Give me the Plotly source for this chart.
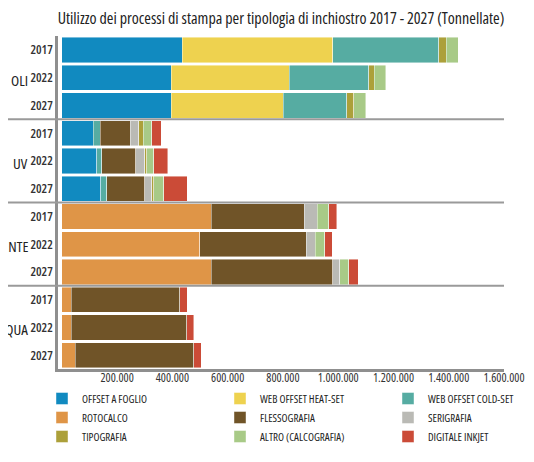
import plotly.graph_objects as go

# ---------------- data (tonnes) ----------------
groups = ["OLI", "UV", "SOLVENTE", "ACQUA"]
years = ["2017", "2022", "2027"]

# order: OLI 2017,2022,2027 | UV ... | SOLVENTE ... | ACQUA ...
offset_foglio   = [435000, 395000, 395000, 114000, 126000, 141000, 0, 0, 0, 0, 0, 0]
web_heat_set    = [545000, 428000, 407000, 0, 0, 0, 0, 0, 0, 0, 0, 0]
web_cold_set    = [383000, 288000, 229000, 24000, 18000, 21000, 0, 0, 0, 0, 0, 0]
rotocalco       = [0, 0, 0, 0, 0, 0, 540000, 499000, 541000, 34000, 34000, 48000]
flessografia    = [0, 0, 0, 109000, 123000, 138000, 338000, 386000, 439000, 392000, 418000, 429000]
serigrafia      = [0, 0, 0, 31000, 33000, 25000, 47000, 32000, 25000, 0, 0, 0]
tipografia      = [28000, 19000, 25000, 16000, 7000, 7000, 0, 0, 0, 0, 0, 0]
altro           = [44000, 42000, 43000, 32000, 26000, 37000, 40000, 35000, 33000, 0, 0, 0]
digitale_inkjet = [0, 0, 0, 33000, 50000, 84000, 29000, 26000, 35000, 27000, 26000, 27000]

series_names = ["OFFSET A FOGLIO", "WEB OFFSET HEAT-SET", "WEB OFFSET COLD-SET",
                "ROTOCALCO", "FLESSOGRAFIA", "SERIGRAFIA",
                "TIPOGRAFIA", "ALTRO (CALCOGRAFIA)", "DIGITALE INKJET"]
series_values = [offset_foglio, web_heat_set, web_cold_set, rotocalco, flessografia,
                 serigrafia, tipografia, altro, digitale_inkjet]
series_colors = ["#118AC0", "#EED24F", "#56ACA2", "#DF9547", "#705428",
                 "#BABAB5", "#ACA03A", "#A8CA87", "#CB4B37"]

x_ticks = [200000, 400000, 600000, 800000, 1000000, 1200000, 1400000, 1600000]

title_text = "Utilizzo dei processi di stampa per tipologia di inchiostro 2017 - 2027 (Tonnellate)"

# ---------------- figure ----------------
OFF = 8                      # page body margin offset
W, H = 534 - OFF, 462 - OFF
ML, MT = 58 - OFF, 36 - OFF
MR = W - (504 - OFF)
MB = H - (369 - OFF)
plot_w = W - ML - MR
plot_h = H - MT - MB

FONT = "Open Sans, DejaVu Sans Condensed, sans-serif"


def cond(t):
    return f'<span style="font-stretch:condensed">{t}</span>'


def fmt_int(v):
    return f"{v:,}".replace(",", ".")


cats = [f"{g} {y}" for g in groups for y in years]

fig = go.Figure()
legend_ids = ["legend", "legend2", "legend3"]
for i, (name, vals, col) in enumerate(zip(series_names, series_values, series_colors)):
    fig.add_trace(go.Bar(
        y=cats,
        x=[v if v else None for v in vals],
        name=cond(name),
        orientation="h",
        marker=dict(color=col, line=dict(color="rgba(255,255,255,0.55)", width=0.8)),
        legend=legend_ids[i % 3],
        hovertemplate=name + ": %{x:,d}<extra></extra>",
    ))

# group labels
n_years = len(years)
for gi, g in enumerate(groups):
    fig.add_annotation(
        x=(30 - OFF - ML) / plot_w, xref="paper", xanchor="right",
        y=cats[gi * n_years + n_years // 2], yref="y", yshift=-2,
        text=cond(g), showarrow=False,
        font=dict(family=FONT, size=15, color="#222222"),
    )

# dividers between groups
n_cats = len(cats)
for gi in range(1, len(groups)):
    frac = 1 - (gi * n_years) / n_cats
    fig.add_shape(type="line", xref="paper", yref="paper",
                  x0=-ML / plot_w, x1=1, y0=frac, y1=frac,
                  line=dict(color="#9a9a9a", width=2), layer="above")

legend_common = dict(
    orientation="v", xref="paper", yref="paper",
    yanchor="top", xanchor="left", traceorder="normal",
    font=dict(family=FONT, size=11, color="#222222"),
    bgcolor="rgba(0,0,0,0)", borderwidth=0,
    itemclick=False, itemdoubleclick=False,
)
legend_x = [42, 220, 388]        # screen px
legend_top = 384                 # screen px
ly = -(legend_top - OFF - (MT + plot_h)) / plot_h

fig.update_layout(
    width=W, height=H,
    margin=dict(l=ML, r=MR, t=MT, b=MB, autoexpand=False),
    paper_bgcolor="white", plot_bgcolor="white",
    barmode="stack", bargap=0.09,
    title=dict(
        text=cond(title_text),
        x=0.5, xref="paper", xanchor="center",
        y=1 - (18 - OFF) / H, yref="container", yanchor="middle",
        font=dict(family=FONT, size=16, color="#222222"),
    ),
    xaxis=dict(
        range=[-14000, 1600000],
        tickvals=x_ticks, ticktext=[cond(fmt_int(v)) for v in x_ticks],
        showgrid=True, gridcolor="rgba(255,255,255,0.6)", gridwidth=1,
        zeroline=False, showline=True, linecolor="#8f8f8f", linewidth=2.5,
        ticks="", layer="above traces", ticklabelstandoff=-4,
        tickfont=dict(family=FONT, size=12, color="#333333"),
        fixedrange=True,
    ),
    yaxis=dict(
        type="category", categoryorder="array", categoryarray=cats,
        autorange="reversed",
        tickvals=cats, ticktext=[cond(y) for g in groups for y in years],
        showgrid=False, zeroline=False,
        showline=True, linecolor="#8f8f8f", linewidth=2.5,
        ticks="", ticklabelstandoff=0,
        tickfont=dict(family=FONT, size=12.5, color="#333333", weight=600),
        fixedrange=True,
    ),
    legend=dict(x=(legend_x[0] - OFF - ML) / plot_w, y=ly, **legend_common),
    legend2=dict(x=(legend_x[1] - OFF - ML) / plot_w, y=ly, **legend_common),
    legend3=dict(x=(legend_x[2] - OFF - ML) / plot_w, y=ly, **legend_common),
)

fig.write_html("out.html")
